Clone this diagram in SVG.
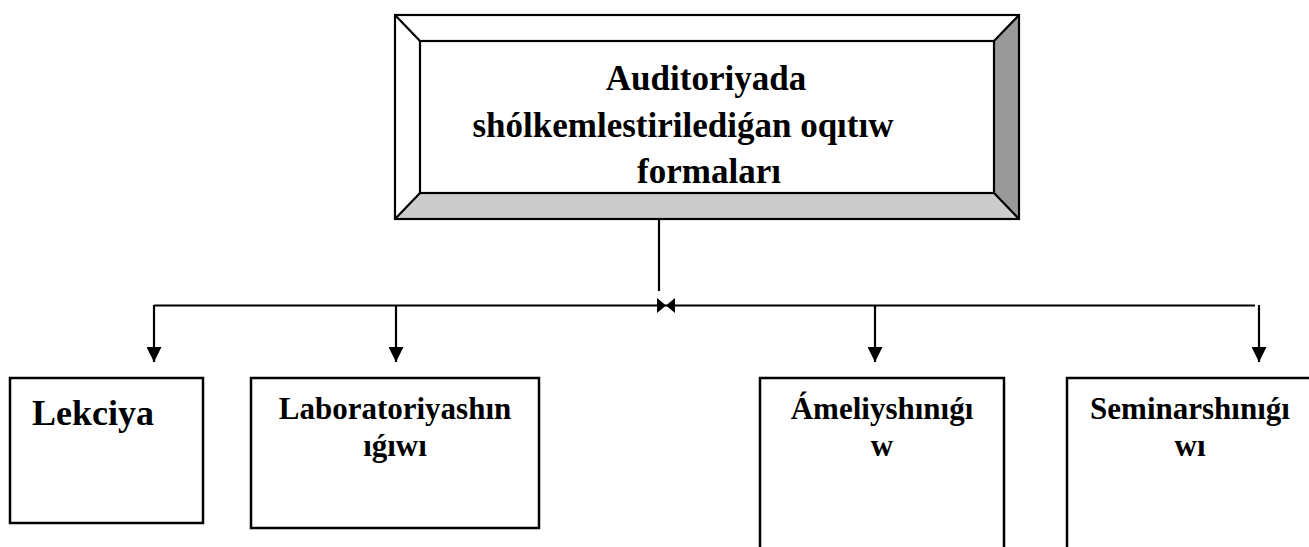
<svg xmlns="http://www.w3.org/2000/svg" width="1309" height="547" viewBox="0 0 1309 547">
<style>
.box{fill:#fff;stroke:#000;stroke-width:2.5}
.ln{fill:none;stroke:#000;stroke-width:2.2}
.t{font-family:"Liberation Serif","Times New Roman",serif;font-weight:bold;fill:#000}
.t35{font-size:35px}
.t36{font-size:36px}
.t31{font-size:31px}
</style>
<defs>
<marker id="ah" markerWidth="15" markerHeight="15" refX="15" refY="7.5" orient="auto" markerUnits="userSpaceOnUse" viewBox="0 0 15 15">
<path d="M0,0 L15,7.5 L0,15 Z" fill="#000"/>
</marker>
</defs>
<rect width="1309" height="547" fill="#fff"/>
<g id="top">
<polygon points="395,15 1019,15 994,41 420,41" fill="#fff"/>
<polygon points="395,15 420,41 420,193 395,219" fill="#fff"/>
<polygon points="1019,15 1019,219 994,193 994,41" fill="#999"/>
<polygon points="395,219 420,193 994,193 1019,219" fill="#ccc"/>
<rect x="395" y="15" width="624" height="204" fill="none" stroke="#000" stroke-width="2.2"/>
<rect x="420" y="41" width="574" height="152" fill="none" stroke="#000" stroke-width="2.2"/>
<path class="ln" d="M395,15 L420,41 M1019,15 L994,41 M395,219 L420,193 M1019,219 L994,193" stroke-width="1.6"/>
<text class="t t35" x="706" y="90" text-anchor="middle">Auditoriyada</text>
<text class="t t35" x="683" y="137" text-anchor="middle">shólkemlestirilediǵan oqıtıw</text>
<text class="t t35" x="709" y="183" text-anchor="middle">formaları</text>
</g>
<g id="connectors">
<line class="ln" x1="659" y1="219" x2="659" y2="291"/>
<line class="ln" x1="154" y1="305.5" x2="1255" y2="305.5"/>
<polygon points="657,298 657,313 666,305.5" fill="#000"/>
<polygon points="675,298 675,313 666,305.5" fill="#000"/>
<line class="ln" x1="154" y1="305" x2="154" y2="362" marker-end="url(#ah)"/>
<line class="ln" x1="396" y1="305" x2="396" y2="362" marker-end="url(#ah)"/>
<line class="ln" x1="875" y1="305" x2="875" y2="362" marker-end="url(#ah)"/>
<line class="ln" x1="1259" y1="305" x2="1259" y2="362" marker-end="url(#ah)"/>
</g>
<g id="lekciya">
<rect class="box" x="10" y="378" width="193" height="145"/>
<text class="t t36" x="32" y="425">Lekciya</text>
</g>
<g id="laboratoriya">
<rect class="box" x="251" y="378" width="288" height="150"/>
<text class="t t31" x="395" y="419" text-anchor="middle">Laboratoriyashın</text>
<text class="t t31" x="395" y="456" text-anchor="middle">ıǵıwı</text>
</g>
<g id="ameliy">
<rect class="box" x="760" y="378" width="244" height="190"/>
<text class="t t31" x="882" y="419" text-anchor="middle">Ámeliyshınıǵı</text>
<text class="t t31" x="882" y="456" text-anchor="middle">w</text>
</g>
<g id="seminar">
<rect class="box" x="1067" y="378" width="250" height="190"/>
<text class="t t31" x="1190" y="419" text-anchor="middle">Seminarshınıǵı</text>
<text class="t t31" x="1190" y="456" text-anchor="middle">wı</text>
</g>
</svg>
